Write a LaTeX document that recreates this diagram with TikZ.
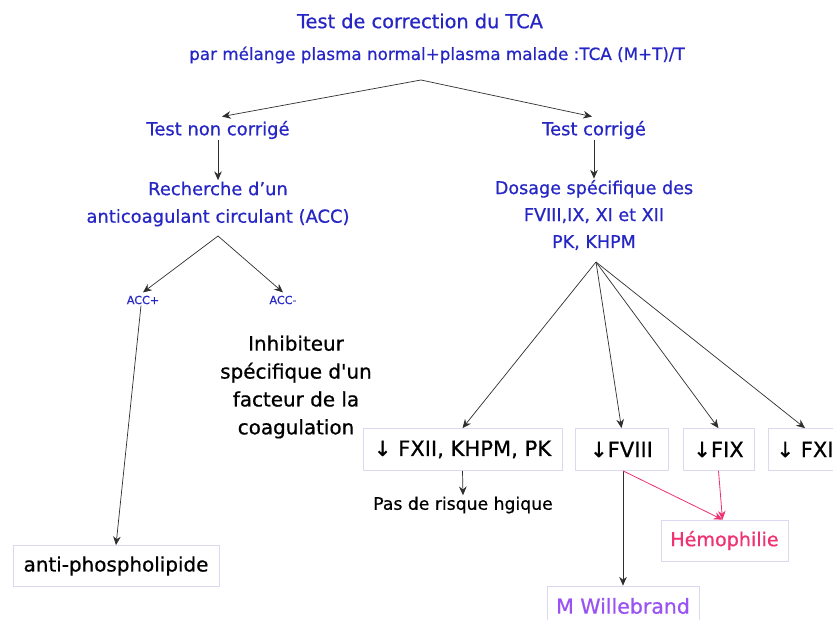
\documentclass[tikz,border=0pt]{standalone}
\usepackage{fontspec}
\setmainfont{DejaVu Sans}[FakeBold=0.7]
\usetikzlibrary{arrows.meta,positioning,calc}
\definecolor{Ink}{HTML}{2626C4}
\definecolor{Rose}{HTML}{EF3271}
\definecolor{Violet}{HTML}{9A52F4}
\definecolor{Frame}{HTML}{D9D9F0}
\definecolor{Wire}{HTML}{2E2E2E}

\begin{document}
\begin{tikzpicture}[x=0.03cm,y=-0.03cm,
    bluetxt/.style={text=Ink,align=center,inner sep=1pt,font=\fontsize{15.3}{23.5}\selectfont},
    blacktxt/.style={text=black,align=center,inner sep=1pt},
    factbox/.style={draw=Frame,line width=0.6pt,fill=white,minimum height=1.26cm,inner sep=2pt,font=\fontsize{18}{20}\selectfont},
    arr/.style={draw=Wire,line width=0.6pt,-{Stealth[length=7.5pt,width=6.5pt]}},
    pinkarr/.style={draw=Rose,line width=0.7pt,-{Stealth[length=7.5pt,width=6.5pt]}}]
  \useasboundingbox (0,0) rectangle (833,620);
  \clip (0,0) rectangle (833,620);
  % titre
  \node[bluetxt,font=\fontsize{16.5}{20}\selectfont] (title) at (420,21) {Test de correction du TCA};
  \node[bluetxt,font=\fontsize{14.3}{17}\selectfont] (mix) at (437,55) {par mélange plasma normal+plasma malade :TCA (M+T)/T};
  \coordinate (top) at (421,80);
  % branche gauche
  \node[bluetxt] (nonc) at (218,130) {Test non corrigé};
  \node[bluetxt] (acc) at (218,204) {Recherche d’un\\anticoagulant circulant (ACC)};
  \coordinate (accfork) at (218,236);
  \node[bluetxt,font=\fontsize{9.5}{11}\selectfont] (accp) at (143,300) {ACC+};
  \node[bluetxt,font=\fontsize{9.5}{11}\selectfont] (accm) at (283,300) {ACC-};
  \node[blacktxt,font=\fontsize{17}{23.8}\selectfont] (inhib) at (296,387) {Inhibiteur\\spécifique d\textquotesingle un\\facteur de la\\coagulation};
  \node[factbox,font=\fontsize{17}{20}\selectfont,minimum width=6.18cm,minimum height=1.23cm] (apl) at (116,566) {anti-phospholipide};
  % branche droite
  \node[bluetxt] (corr) at (594,130) {Test corrigé};
  \node[bluetxt,font=\fontsize{15}{23}\selectfont] (dos) at (594,215) {Dosage spécifique des\\FVIII,IX, XI et XII\\PK, KHPM};
  \coordinate (dosfork) at (596,262);
  \node[factbox,minimum width=5.97cm] (fxii) at (462.5,449.5) {↓ FXII, KHPM, PK};
  \node[factbox,minimum width=2.79cm] (fviii) at (621.5,449.5) {↓FVIII};
  \node[factbox,minimum width=2.13cm] (fix) at (718.5,449.5) {↓FIX};
  \node[factbox,minimum width=2.22cm] (fxi) at (805,449.5) {↓ FXI};
  \node[blacktxt,font=\fontsize{14.7}{17}\selectfont] (pas) at (463,505) {Pas de risque hgique};
  \node[factbox,font=\fontsize{16.3}{20}\selectfont,minimum width=3.81cm,minimum height=1.23cm,text=Rose] (hemo) at (724.5,540.5) {Hémophilie};
  \node[factbox,font=\fontsize{17.5}{20}\selectfont,minimum width=4.56cm,minimum height=1.2cm,text=Violet] (vwf) at (623,606) {M Willebrand};
  % fleches
  \draw[arr] (top) -- ($(nonc.north)+(4,-3)$);
  \draw[arr] (top) -- ($(corr.north)+(-2,-3)$);
  \draw[arr] (nonc.south) -- (acc.north);
  \draw[arr] (accfork) -- ($(accp.north)+(0,-2)$);
  \draw[arr] (accfork) -- ($(accm.north)+(0,-2)$);
  \draw[arr] ($(accp.south)+(-2,0)$) -- (apl.north);
  \draw[arr] (corr.south) -- (dos.north);
  \draw[arr] (dosfork) -- (fxii.north);
  \draw[arr] (dosfork) -- (fviii.north);
  \draw[arr] (dosfork) -- (fix.north);
  \draw[arr] (dosfork) -- (fxi.north);
  \draw[arr] (fxii.south) -- (pas.north);
  \draw[arr] ($(fviii.south)+(1.5,0)$) -- (vwf.north);
  \draw[pinkarr] ($(fviii.south)+(1.5,0)$) -- ($(hemo.north)+(-2,0)$);
  \draw[pinkarr] (fix.south) -- ($(hemo.north)+(-2,0)$);
\end{tikzpicture}
\end{document}
